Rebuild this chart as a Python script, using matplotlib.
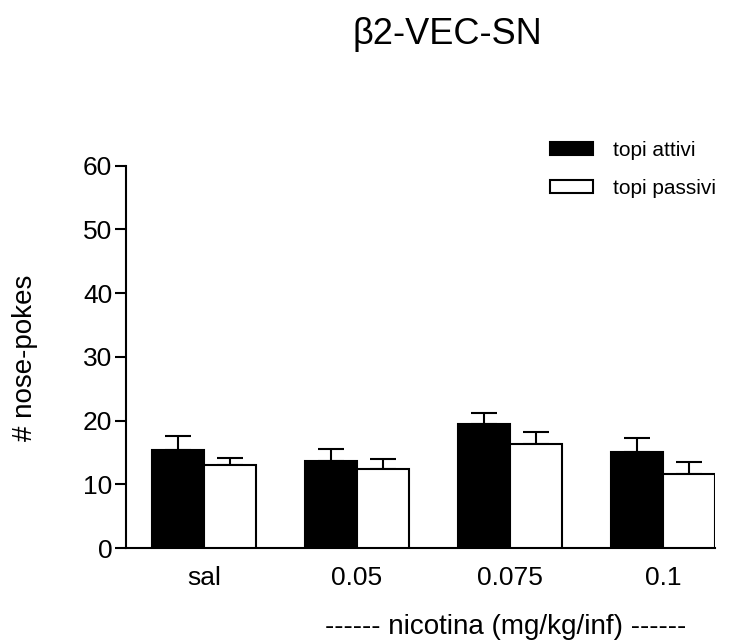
import matplotlib
matplotlib.use("Agg")
import matplotlib.pyplot as plt
import numpy as np
from matplotlib.patches import Patch

plt.rcParams['font.family'] = ['Liberation Sans', 'DejaVu Sans']

# data
doses = ['sal', '0.05', '0.075', '0.1']
attivi = [15.3, 13.6, 19.4, 15.0]
attivi_err = [2.3, 1.9, 1.8, 2.2]
passivi = [13.0, 12.4, 16.3, 11.6]
passivi_err = [1.1, 1.6, 1.9, 1.9]

fig = plt.figure(figsize=(7.32, 6.44), dpi=100)
ax = fig.add_axes([0.1717, 0.149, 0.805, 0.594])

x = np.arange(len(doses))
w = 0.339
lw = 1.5

ax.bar(x - w/2, attivi, w, color='black', edgecolor='black', linewidth=lw, zorder=3)
ax.bar(x + w/2, passivi, w, color='white', edgecolor='black', linewidth=lw, zorder=3)

zeros = np.zeros(len(doses))
ax.errorbar(x - w/2, attivi, yerr=[zeros, attivi_err], fmt='none', ecolor='black',
            elinewidth=lw, capsize=9.7, capthick=lw, zorder=2)
ax.errorbar(x + w/2, passivi, yerr=[zeros, passivi_err], fmt='none', ecolor='black',
            elinewidth=lw, capsize=9.7, capthick=lw, zorder=2)

ax.set_xlim(-0.511, 3 + w)
ax.set_ylim(0, 60)
ax.set_yticks(range(0, 61, 10))
ax.set_xticks(x)
ax.set_xticklabels(doses)
ax.tick_params(axis='x', length=0, labelsize=19, pad=13)
ax.tick_params(axis='y', length=7.7, width=lw, labelsize=19, pad=2)

for s in ['top', 'right']:
    ax.spines[s].set_visible(False)
for s in ['left', 'bottom']:
    ax.spines[s].set_linewidth(lw)

fig.text(25/732, 1 - 358/644, '# nose-pokes', fontsize=20, rotation=90,
         ha='center', va='center')
fig.text(506/732, 1 - 627/644, '------ nicotina (mg/kg/inf) ------', fontsize=20,
         ha='center', va='center')
fig.text(447/732, 1 - 34/644, 'β2-VEC-SN', fontsize=26, ha='center', va='center')

handles = [Patch(facecolor='black', edgecolor='black', linewidth=lw),
           Patch(facecolor='white', edgecolor='black', linewidth=lw)]
ax.legend(handles, ['topi attivi', 'topi passivi'], loc='upper left',
          bbox_to_anchor=(550/732, 1 - 141/644), bbox_transform=fig.transFigure,
          frameon=False, fontsize=15, handlelength=2.07, handleheight=0.53,
          handletextpad=0.96, labelspacing=0.9, borderpad=0, borderaxespad=0)

fig.savefig('out.png', dpi=100)
